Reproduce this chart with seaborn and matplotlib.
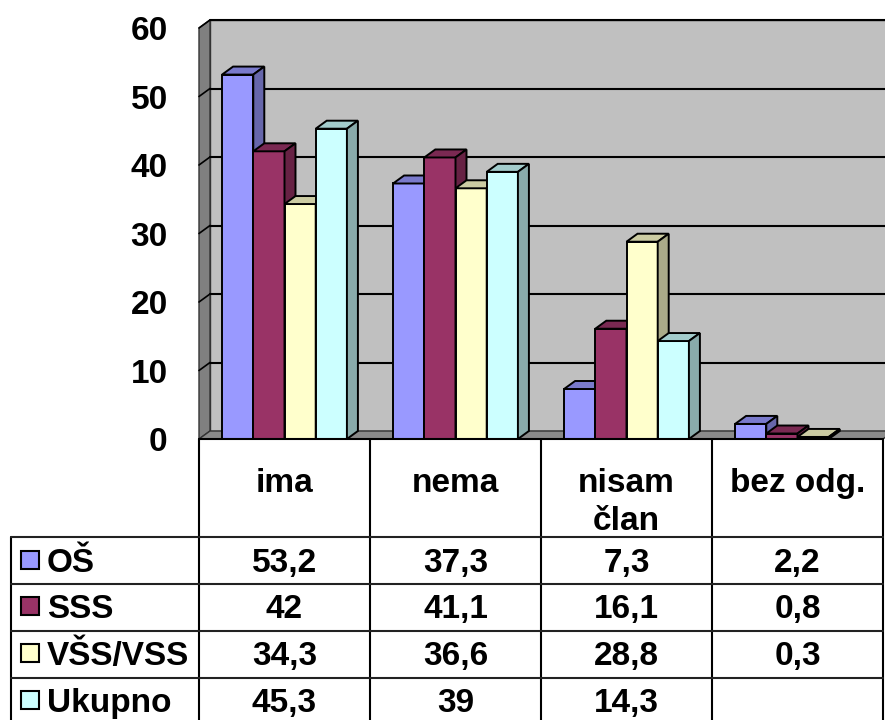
import matplotlib
matplotlib.use("Agg")
import matplotlib.pyplot as plt
import seaborn as sns
import pandas as pd
from matplotlib.patches import Polygon, Rectangle
from matplotlib.lines import Line2D
from matplotlib.transforms import blended_transform_factory
import matplotlib.colors as mcolors

# data
categories = ["ima", "nema", "nisam\nčlan", "bez odg."]
groups = ["OŠ", "SSS", "VŠS/VSS", "Ukupno"]
os_vals = [53.2, 37.3, 7.3, 2.2]
sss_vals = [42, 41.1, 16.1, 0.8]
vss_vals = [34.3, 36.6, 28.8, 0.3]
ukupno_vals = [45.3, 39, 14.3, None]
yticks = [0, 10, 20, 30, 40, 50, 60]
colors = ["#9999FF", "#993366", "#FFFFCC", "#CCFFFF"]

series = [os_vals, sss_vals, vss_vals, ukupno_vals]
rows = []
for g, vals in zip(groups, series):
    for c, v in zip(categories, vals):
        if v is not None:
            rows.append({"kat": c, "grupa": g, "val": v})
df = pd.DataFrame(rows)

sns.set_style("white")
plt.rcParams["font.family"] = ["Liberation Sans", "DejaVu Sans"]
plt.rcParams["font.weight"] = "bold"
plt.rcParams["text.color"] = "black"
plt.rcParams["ytick.color"] = "black"
plt.rcParams["ytick.labelcolor"] = "black"
FS = 24

W, H = 885, 720
fig = plt.figure(figsize=(W / 100, H / 100), dpi=100)
ax = fig.add_axes([199 / W, 1 - 439 / H, (883 - 199) / W, (439 - 28) / H])

sns.barplot(data=df, x="kat", y="val", hue="grupa", order=categories,
            hue_order=groups, palette=colors, saturation=1, width=0.73,
            errorbar=None, edgecolor="black", linewidth=1.4, legend=False, ax=ax)

ax.set_xlim(-0.5, 3.5)
ax.set_ylim(0, 60)
ax.set_facecolor("none")
for s in ax.spines.values():
    s.set_visible(False)
ax.set_xlabel("")
ax.set_ylabel("")
ax.tick_params(axis="x", length=0, labelbottom=False)
ax.set_yticks(yticks)
ax.set_yticklabels([str(t) for t in yticks], fontsize=FS, fontweight="bold", color="black")
ax.tick_params(axis="y", length=7.5, width=1.2, pad=15, color="black")

# 3D depth offset in data units
dx = 11 / (684 / 4)
dy = 8 / (411 / 60)

# walls
ax.add_patch(Rectangle((-0.5 + dx, dy), 4, 60, fc="#C0C0C0", ec="#333333",
                       lw=1, clip_on=False, zorder=0))
ax.add_patch(Polygon([(-0.5, 0), (-0.5, 60), (-0.5 + dx, 60 + dy), (-0.5 + dx, dy)],
                     closed=True, fc="#808080", ec="#333333", lw=1,
                     clip_on=False, zorder=0.1))
ax.add_patch(Polygon([(-0.5, 0), (3.5, 0), (3.5 + dx, dy), (-0.5 + dx, dy)],
                     closed=True, fc="#8A8A8A", ec="#333333", lw=1,
                     clip_on=False, zorder=0.1))
for v in yticks[1:]:
    ax.plot([-0.5 + dx, 3.5 + dx], [v + dy, v + dy], color="black", lw=1.5,
            clip_on=False, zorder=0.5)
    ax.plot([-0.5, -0.5 + dx], [v, v + dy], color="black", lw=1.2,
            clip_on=False, zorder=0.5)

# bar tops and sides
bars = sorted([p for p in ax.patches if isinstance(p, Rectangle) and p.get_height() > 0
               and p.get_width() < 0.5], key=lambda p: p.get_x())
for i, p in enumerate(bars):
    z = 2 + i * 0.01
    p.set_zorder(z)
    x0, w, h = p.get_x(), p.get_width(), p.get_height()
    fc = mcolors.to_rgb(p.get_facecolor())
    top = tuple(c * 0.8 for c in fc)
    side = tuple(c * 0.67 for c in fc)
    ax.add_patch(Polygon([(x0, h), (x0 + w, h), (x0 + w + dx, h + dy), (x0 + dx, h + dy)],
                         closed=True, fc=top, ec="black", lw=1.4, clip_on=False, zorder=z))
    ax.add_patch(Polygon([(x0 + w, 0), (x0 + w, h), (x0 + w + dx, h + dy), (x0 + w + dx, dy)],
                         closed=True, fc=side, ec="black", lw=1.4, clip_on=False, zorder=z))

# data table
def fy(px):
    return 1 - px / H

tr = blended_transform_factory(ax.transData, fig.transFigure)
lw_t = 1.5
fig.add_artist(Line2D([199 / W, 883 / W], [fy(439), fy(439)], color="black", lw=lw_t))
for x in [-0.5, 0.5, 1.5, 2.5, 3.5]:
    fig.add_artist(Line2D([x, x], [fy(439), fy(720)], transform=tr, color="black", lw=lw_t))
fig.add_artist(Line2D([11 / W, 11 / W], [fy(537), fy(720)], color="black", lw=lw_t))
for ypx in [537, 584, 631, 678]:
    fig.add_artist(Line2D([11 / W, 883 / W], [fy(ypx), fy(ypx)], color="#222222", lw=lw_t))

for i, c in enumerate(categories):
    for k, line in enumerate(c.split("\n")):
        fig.text(i, fy(492 + 38 * k), line, transform=tr, ha="center", va="baseline",
                 fontsize=FS, fontweight="bold", color="black")

baselines = [572, 618, 665, 712]
for g, vals, col, b in zip(groups, series, colors, baselines):
    fig.add_artist(Rectangle((21 / W, fy(b - 3)), 18 / W, 18 / H, transform=fig.transFigure,
                             fc=col, ec="black", lw=1.5))
    fig.text(47 / W, fy(b), g, ha="left", va="baseline", fontsize=FS, fontweight="bold",
             color="black")
    for i, v in enumerate(vals):
        if v is None:
            continue
        fig.text(i, fy(b), f"{v:g}".replace(".", ","), transform=tr, ha="center",
                 va="baseline", fontsize=FS, fontweight="bold", color="black")

fig.savefig("out.png", dpi=100, facecolor="white")
